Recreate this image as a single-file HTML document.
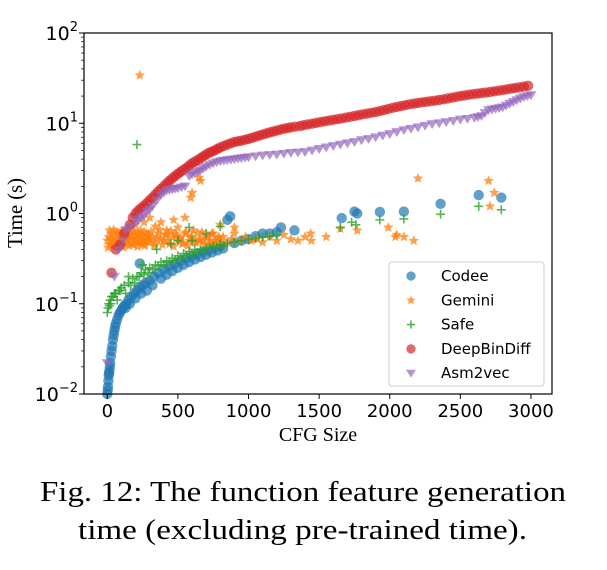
<!DOCTYPE html>
<html><head><meta charset="utf-8"><style>
body{margin:0;background:#fff;width:607px;height:565px;overflow:hidden}
svg text{font-family:"DejaVu Sans","Liberation Sans",sans-serif}
</style></head><body>
<svg id="chart" width="607" height="565" xmlns="http://www.w3.org/2000/svg">
<g id="marks"></g>
<rect x="84" y="33" width="468" height="361" fill="none" stroke="#000" stroke-width="1.2"/>
<g id="axes"></g>
<text transform="translate(22,213) rotate(-90)" text-anchor="middle" font-size="21" textLength="70" style="font-family:'Liberation Serif',serif">Time (s)</text>
<text x="318" y="441" text-anchor="middle" font-size="20" style="font-family:'Liberation Serif',serif">CFG Size</text>
<text x="40" y="501" font-size="29" textLength="526" lengthAdjust="spacingAndGlyphs" style="font-family:'Liberation Serif',serif">Fig. 12: The function feature generation</text>
<text x="78" y="539" font-size="29" textLength="449" lengthAdjust="spacingAndGlyphs" style="font-family:'Liberation Serif',serif">time (excluding pre-trained time).</text>
<g id="legend">
<rect x="389" y="262" width="155" height="124" rx="3" fill="#fff" fill-opacity="0.85" stroke="#ccc"/>
</g>
</svg>
<script>
const xTicks=[0,500,1000,1500,2000,2500,3000];
const yTickExp=[-2,-1,0,1,2];
const codeeX=[0,3,5,8,10,12,15,18,20,25,30,35,40,45,50,55,60,70,80,90,100,110,120,135,150,170,190,210,230,250,270,300,330,360,400,440,480,520,560,600,640,680,720,760,800,850,870,900,950,1000,1050,1100,1150,1200,1230,1325,1660,1750,1770,1930,2100,2360,2630,2790,130,160,200,240,280,320,380,420,460,500,540,580,620,660,700,740,780,820,230];
const codeeY=[0.01,0.011,0.012,0.014,0.016,0.017,0.018,0.02,0.022,0.026,0.03,0.034,0.04,0.045,0.05,0.055,0.06,0.067,0.075,0.08,0.085,0.09,0.095,0.1,0.11,0.12,0.13,0.14,0.15,0.16,0.17,0.18,0.2,0.22,0.24,0.26,0.28,0.3,0.32,0.34,0.36,0.38,0.4,0.42,0.44,0.85,0.93,0.47,0.5,0.52,0.56,0.6,0.6,0.62,0.7,0.65,0.89,1.05,1.0,1.04,1.05,1.28,1.6,1.5,0.09,0.1,0.115,0.13,0.14,0.16,0.19,0.21,0.23,0.25,0.27,0.29,0.31,0.33,0.35,0.37,0.39,0.41,0.28];
const geminiX=[0,10,20,30,40,50,60,70,80,90,100,110,120,130,140,150,160,170,180,190,200,210,220,230,240,250,260,270,280,290,300,320,340,360,380,400,420,440,460,480,500,520,540,560,580,600,620,640,660,680,700,720,740,760,780,800,820,850,880,900,940,980,1020,1060,1100,1150,1200,1250,1300,1350,1400,1440,1445,1550,1650,1770,1990,2040,2050,2100,2170,2200,2700,2710,2740,230,600,590,650,660,550,300,380,120,200,470,500,800,900,340,260,420,150,5,15,25,35,45,55,65,75,85,95,105,115,125,135,145,155,165,175,185,195,205,215,225,235,245,255,265,275,285,295,310,330,350,370,390,410,430,450,470,490,510,530,550,570,590,610,630,650,670,690,710,730,750,770,790];
const geminiY=[0.5,0.55,0.45,0.6,0.5,0.48,0.62,0.52,0.44,0.58,0.5,0.55,0.47,0.6,0.52,0.5,0.57,0.46,0.63,0.5,0.54,0.48,0.6,0.5,0.56,0.45,0.62,0.52,0.49,0.58,0.5,0.55,0.47,0.6,0.52,0.5,0.58,0.46,0.55,0.6,0.5,0.53,0.47,0.62,0.5,0.55,0.48,0.6,0.52,0.5,0.55,0.47,0.6,0.5,0.53,0.5,0.55,0.48,0.52,0.6,0.5,0.55,0.5,0.52,0.48,0.55,0.5,0.58,0.52,0.5,0.55,0.6,0.5,0.55,0.68,0.65,0.7,0.55,0.58,0.55,0.5,2.45,2.3,1.2,1.7,34,1.7,1.5,2.5,2.3,0.9,0.9,0.8,0.65,0.75,0.85,0.7,0.75,0.7,0.72,0.8,0.65,0.7,0.42,0.65,0.52,0.44,0.66,0.56,0.43,0.6,0.5,0.45,0.64,0.42,0.55,0.48,0.66,0.44,0.58,0.53,0.45,0.62,0.5,0.43,0.57,0.65,0.47,0.52,0.44,0.6,0.55,0.48,0.63,0.44,0.53,0.66,0.45,0.58,0.5,0.64,0.43,0.57,0.52,0.46,0.6,0.44,0.54,0.65,0.48,0.5,0.62,0.45,0.56,0.5,0.6,0.47,0.55];
const safeX=[0,5,10,15,20,30,40,50,60,80,100,120,150,180,210,240,270,300,340,380,420,460,500,540,580,620,660,700,750,800,850,900,950,1000,1050,1100,1150,1200,210,150,250,450,500,600,580,800,1650,1730,1760,1930,2100,2360,2630,2790,350,700,25,70,90,130,165,195,225,260,290,320,360,400,440,480,520,560,600,640,680,725,775,825];
const safeY=[0.08,0.09,0.1,0.095,0.11,0.12,0.12,0.13,0.13,0.14,0.15,0.16,0.17,0.19,0.2,0.22,0.24,0.25,0.27,0.29,0.3,0.32,0.34,0.36,0.38,0.4,0.4,0.41,0.43,0.45,0.47,0.48,0.5,0.52,0.53,0.55,0.56,0.58,5.8,0.2,0.27,0.46,0.5,0.5,0.7,0.72,0.7,0.8,0.75,0.85,0.87,0.98,1.2,1.1,0.4,0.6,0.1,0.11,0.14,0.13,0.16,0.17,0.2,0.21,0.22,0.24,0.26,0.27,0.29,0.3,0.32,0.34,0.35,0.37,0.38,0.42,0.42,0.44];
const dbdX=[30,60,90,120,160,200,240,280,320,360,400,440,480,520,560,600,640,680,720,760,800,850,900,950,1000,1050,1100,1150,1200,1250,1300,1365,1420,1480,1540,1600,1660,1720,1780,1840,1900,1960,2020,2080,2140,2200,2260,2320,2380,2440,2500,2560,2620,2680,2740,2800,2860,2920,2980,180,220,260,300,340,380,420,460,500,540,580,620,660,700,740,780,825,875,925,975,1025,1075,1125,1175,1225,1275,1330,1390,1450,1510,1570,1630,1690,1750,1810,1870,1930,1990,2050,2110,2170,2230,2290,2350,2410,2470,2530,2590,2650,2710,2770,2830,2890,2950];
const dbdY=[0.22,0.4,0.45,0.6,0.75,1.0,1.15,1.3,1.5,1.75,2.0,2.3,2.6,2.9,3.2,3.6,3.9,4.3,4.7,5.0,5.4,5.8,6.2,6.4,6.7,7.1,7.5,7.9,8.3,8.7,9.0,9.3,9.7,10.1,10.5,10.9,11.3,11.8,12.3,12.8,13.3,14.0,14.8,15.5,16.2,16.8,17.3,17.8,18.4,19.2,20.0,20.7,21.3,21.9,22.6,23.3,24.2,25.0,26.0,0.9,1.08,1.22,1.4,1.62,1.87,2.15,2.45,2.75,3.05,3.4,3.75,4.1,4.5,4.85,5.2,5.6,6.0,6.3,6.55,6.9,7.3,7.7,8.1,8.5,8.85,9.15,9.5,9.9,10.3,10.7,11.1,11.55,12.05,12.55,13.05,13.65,14.4,15.15,15.85,16.5,17.05,17.55,18.1,18.8,19.6,20.35,21.0,21.6,22.25,22.95,23.75,24.6,25.5];
const a2vX=[0,50,80,110,130,160,200,240,280,320,350,380,420,460,500,550,580,620,660,700,750,800,850,900,950,1000,1100,1200,1300,1400,1500,1600,1700,1800,1900,2000,2100,2200,2300,2400,2500,2600,2650,2700,2750,2800,2850,2900,2950,3000,220,260,300,400,440,480,525,600,640,680,725,775,825,875,925,975,1050,1150,1250,1350,1450,1550,1650,1750,1850,1950,2050,2150,2250,2350,2450,2550,2625,2675,2725,2775,2825,2875,2925,2975];
const a2vY=[0.022,0.2,0.4,0.5,0.65,0.7,0.8,0.9,1.05,1.2,1.4,1.6,1.8,1.85,1.9,2.0,2.6,2.8,3.0,3.3,3.6,3.8,3.9,4.0,4.1,4.2,4.4,4.5,4.7,4.8,5.2,5.6,6.0,6.5,7.0,7.6,8.4,9.0,9.8,10.3,11.0,11.5,12.0,14.0,14.5,15.0,16.5,18.0,19.5,20.5,0.85,0.95,1.1,1.7,1.82,1.88,1.95,2.7,2.9,3.15,3.45,3.7,3.85,3.95,4.05,4.15,4.3,4.45,4.6,4.75,5.0,5.4,5.8,6.2,6.7,7.3,8.0,8.7,9.4,10.0,10.6,11.2,11.7,13.0,14.2,14.7,15.7,17.2,18.8,20.0];
const seriesNames=['Codee','Gemini','Safe','DeepBinDiff','Asm2vec'];
const colors=['#1f77b4','#ff7f0e','#2ca02c','#d62728','#9467bd'];
const X0=84,X1=552,XMIN=-165,XMAX=3149,Y0=394,Y1=33,LMIN=-2,LMAX=2;
function sx(v){return X0+(v-XMIN)/(XMAX-XMIN)*(X1-X0);}
function sy(v){return Y0-(Math.log10(v)-LMIN)/(LMAX-LMIN)*(Y0-Y1);}
const NS='http://www.w3.org/2000/svg';
function mk(tag,attrs,parent){const e=document.createElementNS(NS,tag);for(const k in attrs)e.setAttribute(k,attrs[k]);parent.appendChild(e);return e;}
function star(cx,cy,r){let p=[];for(let i=0;i<10;i++){const a=-Math.PI/2+i*Math.PI/5;const rr=i%2?r*0.45:r;p.push((cx+rr*Math.cos(a)).toFixed(1)+','+(cy+rr*Math.sin(a)).toFixed(1));}return p.join(' ');}
function marker(type,cx,cy,parent,scale){
  const c=colors[type];let e;
  if(type===0||type===3){e=mk('circle',{cx:cx,cy:cy,r:5.2*scale,fill:c,'fill-opacity':0.7},parent);}
  else if(type===1){e=mk('polygon',{points:star(cx,cy,5.5*scale),fill:c,'fill-opacity':0.75},parent);}
  else if(type===2){e=mk('path',{d:`M${cx-4.5*scale},${cy}H${cx+4.5*scale}M${cx},${cy-4.5*scale}V${cy+4.5*scale}`,stroke:c,'stroke-width':1.6,'stroke-opacity':0.8},parent);}
  else {const r=5.5*scale;e=mk('polygon',{points:`${cx-r},${cy-r*0.7} ${cx+r},${cy-r*0.7} ${cx},${cy+r*0.9}`,fill:c,'fill-opacity':0.7},parent);}
  return e;
}
const marks=document.getElementById('marks');
const sets=[[codeeX,codeeY],[geminiX,geminiY],[safeX,safeY],[dbdX,dbdY],[a2vX,a2vY]];
[0,1,2,3,4].forEach(t=>{
  const g=mk('g',{},marks);
  
  
  const [xs,ys]=sets[t];
  for(let i=0;i<xs.length;i++){
    const e=marker(t,sx(xs[i]),sy(ys[i]),g,1);
    
    
  }
});
const axes=document.getElementById('axes');
xTicks.forEach(v=>{
  const x=sx(v);
  mk('line',{x1:x,x2:x,y1:Y0,y2:Y0+5,stroke:'#000'},axes);
  const t=mk('text',{x:x,y:Y0+23,'text-anchor':'middle','font-size':18},axes);
  t.textContent=v;
  
  
});
yTickExp.forEach(p=>{
  const y=sy(Math.pow(10,p));
  mk('line',{x1:X0-5,x2:X0,y1:y,y2:y,stroke:'#000'},axes);
  if(p<LMAX){for(let k=2;k<10;k++){const yy=sy(k*Math.pow(10,p));mk('line',{x1:X0-3,x2:X0,y1:yy,y2:yy,stroke:'#000','stroke-width':0.7},axes);}}
  const t=mk('text',{x:X0-6,y:y+7,'text-anchor':'end','font-size':19},axes);
  
  
  const b=mk('tspan',{},t);b.textContent='10';
  const s=mk('tspan',{dy:-9,'font-size':13},t);s.textContent=p<0?'\u2212'+(-p):String(p);
});
const leg=document.getElementById('legend');
seriesNames.forEach((n,i)=>{
  const y=276+i*24.3;
  const g=mk('g',{},leg);
  
  
  marker(i,411,y,g,0.9);
  const t=mk('text',{x:441,y:y+5,'font-size':15},g);t.textContent=n;
});
</script>
</body></html>
